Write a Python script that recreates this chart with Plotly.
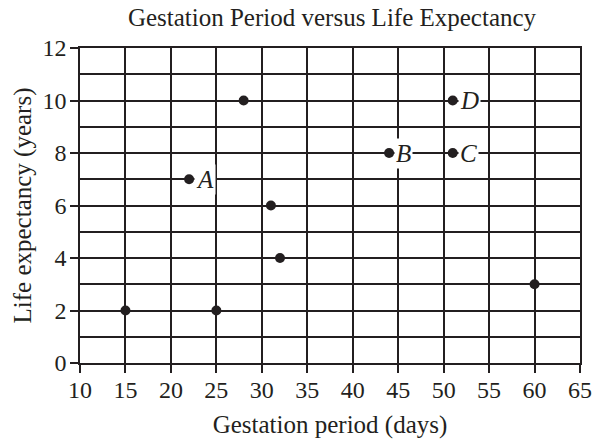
import plotly.graph_objects as go

gestation = [15, 25, 22, 28, 31, 32, 44, 51, 51, 60]
life = [2, 2, 7, 10, 6, 4, 8, 8, 10, 3]
label_names = ["A", "B", "C", "D"]
label_x = [22, 44, 51, 51]
label_y = [7, 8, 8, 10]

INK = "#231f20"
FONT = "Liberation Serif"
FS = 24
TFS = 25

fig = go.Figure()
fig.add_trace(go.Scatter(x=gestation, y=life, mode="markers",
                         marker=dict(color=INK, size=10), showlegend=False,
                         cliponaxis=False, hoverinfo="skip"))

for n, x, y in zip(label_names, label_x, label_y):
    fig.add_annotation(x=x, y=y, text=f"<i>{n}</i>", showarrow=False,
                       xanchor="left", yanchor="middle", xshift=5,
                       bgcolor="white", borderpad=1,
                       font=dict(family=FONT, size=TFS, color=INK))

fig.update_layout(
    width=592, height=444,
    margin=dict(l=80, r=12, t=48, b=81),
    paper_bgcolor="white", plot_bgcolor="white",
    font=dict(family=FONT, size=FS, color=INK),
    title=dict(text="Gestation Period versus Life Expectancy", x=332 / 592, xanchor="center",
               y=1 - 17 / 444, yanchor="middle", font=dict(family=FONT, size=TFS, color=INK)),
)
fig.update_xaxes(range=[10, 65], dtick=5, tick0=10, showgrid=True, gridcolor=INK, gridwidth=1.5,
                 ticks="outside", ticklen=8, tickwidth=1.5, tickcolor=INK,
                 showline=True, linecolor=INK, linewidth=1.5, mirror=True,
                 zeroline=False, tickfont=dict(size=FS), automargin=False,
                 ticklabelstandoff=-4,
                 title=dict(text="Gestation period (days)", standoff=14, font=dict(size=TFS)))
fig.update_yaxes(range=[0, 12], dtick=2, tick0=0, showgrid=True, gridcolor=INK, gridwidth=1.5,
                 minor=dict(dtick=1, showgrid=True, gridcolor=INK, gridwidth=1.5),
                 ticks="outside", ticklen=8, tickwidth=1.5, tickcolor=INK,
                 showline=True, linecolor=INK, linewidth=1.5, mirror=True,
                 zeroline=False, tickfont=dict(size=FS), automargin=False,
                 ticklabelstandoff=-1,
                 title=dict(text="Life expectancy (years)", standoff=4, font=dict(size=TFS)))

fig.write_html("out.html", config={"displayModeBar": False},
               post_script="document.body.style.margin='0';document.body.style.overflow='hidden';")
